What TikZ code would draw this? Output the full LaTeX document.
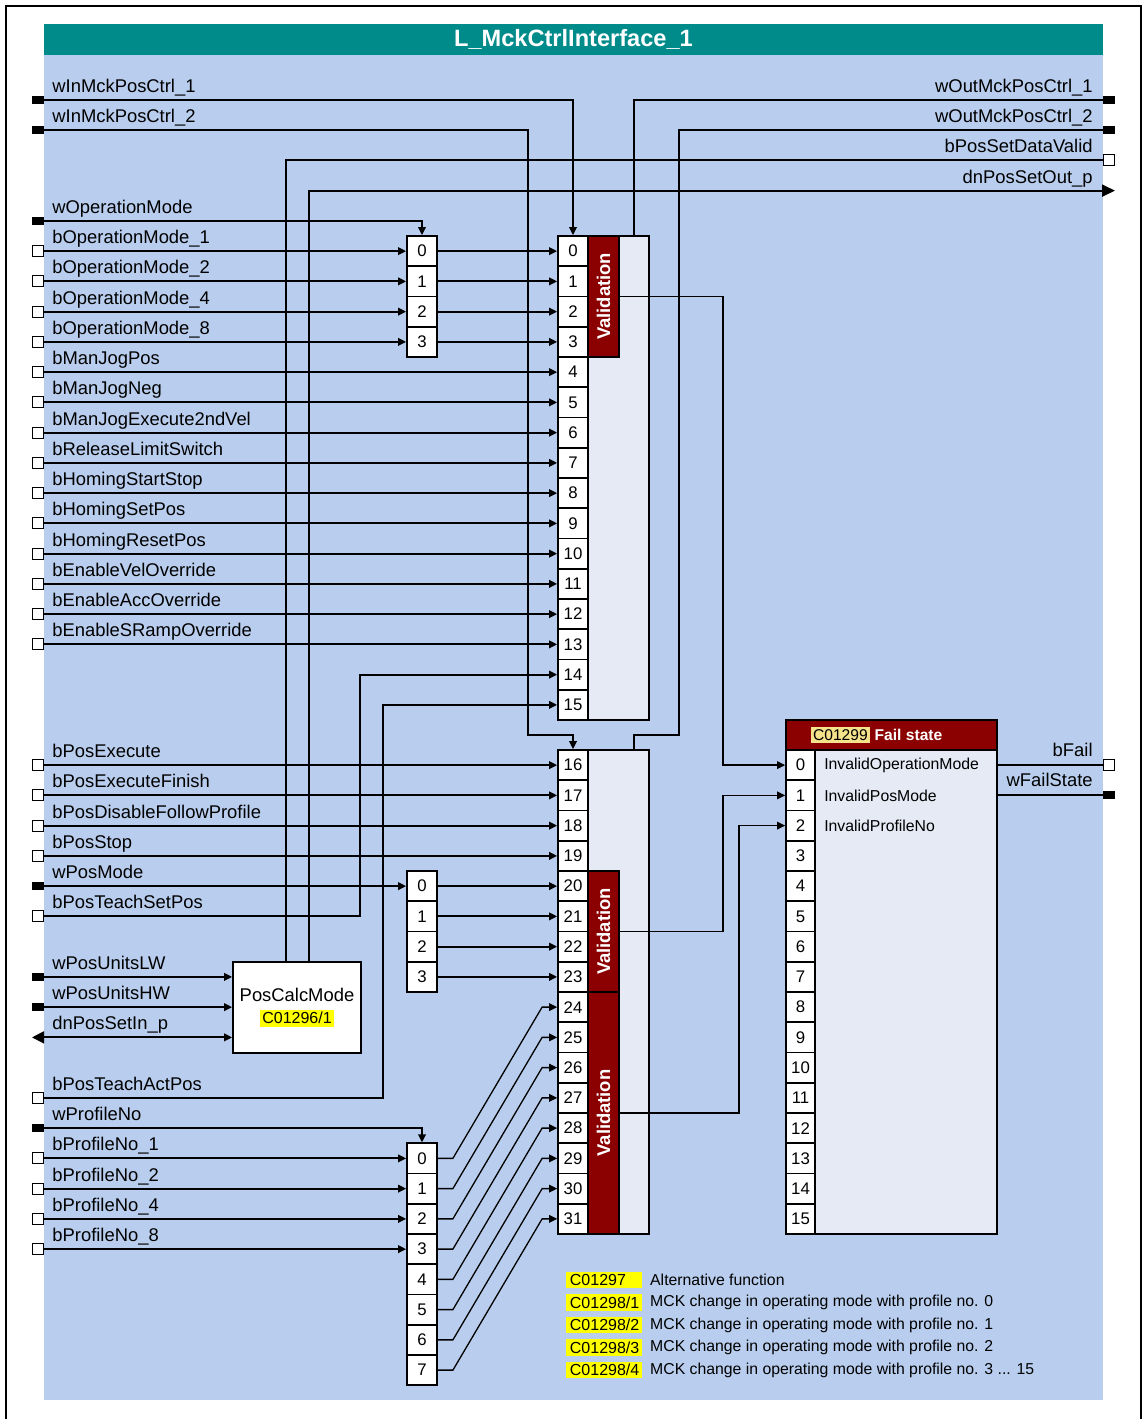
\documentclass[tikz,border=0pt]{standalone}
\usepackage{fontspec}
\setmainfont{Liberation Sans}
\usetikzlibrary{arrows.meta,positioning}
\usepackage{xcolor}
\definecolor{frameteal}{HTML}{008B8B}
\definecolor{paneblue}{HTML}{B9CEEE}
\definecolor{boxgrey}{HTML}{E6EAF5}
\definecolor{validred}{HTML}{8B0000}
\definecolor{codeyellow}{HTML}{FFFF00}
\definecolor{codepale}{HTML}{F4E38A}
\setlength{\fboxsep}{1.3pt}

\tikzset{
  wire/.style={line width=0.9pt},
  arr/.style={wire,-{Triangle[length=4pt,width=3.8pt]}},
  slim/.style={line width=0.65pt,-{Triangle[length=4pt,width=3.8pt]}},
  cell/.style={draw,line width=0.9pt,fill=white,minimum width=15pt,minimum height=15.125pt,inner sep=0pt,font=\fontsize{8.4}{10}\selectfont},
  pinw/.style={fill=black,minimum width=6pt,minimum height=4pt,inner sep=0pt},
  pinb/.style={draw,line width=0.6pt,fill=white,minimum size=5.5pt,inner sep=0pt},
  sig/.style={anchor=base west,inner sep=0pt,font=\fontsize{9.2}{11}\selectfont},
  sigr/.style={anchor=base east,inner sep=0pt,font=\fontsize{9.2}{11}\selectfont},
  blockbox/.style={draw,line width=0.9pt,fill=boxgrey,inner sep=0pt},
  valid/.style={draw,line width=0.9pt,fill=validred,text=white,rotate=90,minimum height=15.5pt,inner sep=0pt,font=\bfseries\fontsize{9.2}{11}\selectfont},
  codebox/.style={fill=codeyellow,anchor=west,text width=34.5pt,inner xsep=1.75pt,inner ysep=0pt,minimum height=8.3pt,font=\fontsize{8}{10}\selectfont},
  note/.style={anchor=west,inner sep=0pt,font=\fontsize{7.9}{10}\selectfont}
}

\begin{document}
\begin{tikzpicture}[x=0.5pt,y=-0.5pt]
\useasboundingbox (0,0) rectangle (1143,1419);
% frame, panel and title
\draw[line width=1pt] (5.5,1430) -- (5.5,5.5) -- (1141,5.5) -- (1141,1430);
\fill[paneblue] (44,55) rectangle (1103,1400);
\node[fill=frameteal,minimum width=529.5pt,minimum height=15.5pt,inner sep=0pt,text=white,font=\bfseries\fontsize{11.8}{14}\selectfont] (title) at (573.5,39.5) {L\_MckCtrlInterface\_1};

% input blocks 0..15 and 16..31
\node[blockbox,minimum width=45.5pt,minimum height=242pt] (blk1) at (603.5,478) {};
\node[blockbox,minimum width=45.5pt,minimum height=242pt] (blk2) at (603.5,992) {};
\foreach \i in {0,...,15}
  \node[cell] (a\i) at (573,{251.125+30.25*\i}) {\i};
\foreach \i in {16,...,31}
  \node[cell] (a\i) at (573,{765.125+30.25*(\i-16)}) {\i};
\node[valid,minimum width=60.5pt] (v1) at (603.5,296.5) {Validation};
\node[valid,minimum width=60.5pt] (v2) at (603.5,931.5) {Validation};
\node[valid,minimum width=121pt] (v3) at (603.5,1113) {Validation};

% selector columns
\foreach \i in {0,...,3}{
  \node[cell] (m\i) at (422,{251.125+30.25*\i}) {\i};
  \node[cell] (n\i) at (422,{886.125+30.25*\i}) {\i};
}
\foreach \i in {0,...,7}
  \node[cell] (p\i) at (422,{1158.375+30.25*\i}) {\i};

% fail state block
\node[blockbox,minimum width=105.5pt,minimum height=242pt] (fail) at (891.5,992) {};
\node[draw,line width=0.9pt,fill=validred,minimum width=105.5pt,minimum height=15pt,inner sep=0pt] (failhd) at (891.5,735) {};
\node[anchor=west,inner sep=0pt,text=white,font=\bfseries\fontsize{7.8}{10}\selectfont,right=12.5pt of failhd.west] (failtxt) {\colorbox{codepale}{\color{black}\mdseries C01299}\ Fail state};
\foreach \i in {0,...,15}
  \node[cell,minimum width=14.5pt] (f\i) at (800.5,{765.125+30.25*\i}) {\i};
\node[note,right=4pt of f0] {InvalidOperationMode};
\node[note,right=4pt of f1] {InvalidPosMode};
\node[note,right=4pt of f2] {InvalidProfileNo};

% position calculation
\node[draw,line width=0.9pt,fill=white,minimum width=64pt,minimum height=45.5pt,inner sep=0pt,align=center,font=\fontsize{9.2}{11}\selectfont] (pcm) at (297,1007.5) {PosCalcMode\\\colorbox{codeyellow}{\fontsize{8}{9}\selectfont C01296/1}};

% control words in and out
\node[pinw] (inA) at (38,99.875) {};
\node[sig] at (52,92.4) {wInMckPosCtrl\_1};
\draw[arr] (inA.east) -| (a0.north);
\node[pinw] (inB) at (38,130.125) {};
\node[sig] at (52,122.6) {wInMckPosCtrl\_2};
\coordinate (bendB) at (528,735);
\draw[arr] (inB.east) -| (bendB) -| (a16.north);

\node[pinw] (outA) at (1109,99.875) {};
\node[sigr] at (1093,92.4) {wOutMckPosCtrl\_1};
\coordinate (tapA) at (634,236);
\draw[wire] (tapA) |- (outA.west);
\node[pinw] (outB) at (1109,130.125) {};
\node[sigr] at (1093,122.6) {wOutMckPosCtrl\_2};
\coordinate (tapB) at (634,750);
\coordinate (bendO) at (679,735);
\draw[wire] (tapB) |- (bendO) |- (outB.west);

\node[pinb] (outV) at (1109,160.375) {};
\node[sigr] at (1093,152.9) {bPosSetDataValid};
\draw[wire] ([xshift=-5.5pt]pcm.north) |- (outV.west);
\coordinate (outP) at (1115,190.625);
\node[sigr] at (1093,183.1) {dnPosSetOut\_p};
\draw[wire,-{Triangle[length=6.5pt,width=6pt]}] ([xshift=6pt]pcm.north) |- (outP);

% operation mode
\node[pinw] (inOM) at (38,220.875) {};
\node[sig] at (52,213.4) {wOperationMode};
\draw[arr] (inOM.east) -| (m0.north);
\foreach \i/\t in {0/1,1/2,2/4,3/8}{
  \node[pinb] (in\i) at (38,{251.125+30.25*\i}) {};
  \node[sig] at (52,{243.625+30.25*\i}) {bOperationMode\_\t};
  \draw[arr] (in\i.east) -- (m\i.west);
  \draw[arr] (m\i.east) -- (a\i.west);
}
\foreach \i/\t in {4/bManJogPos,5/bManJogNeg,6/bManJogExecute2ndVel,7/bReleaseLimitSwitch,8/bHomingStartStop,9/bHomingSetPos,10/bHomingResetPos,11/bEnableVelOverride,12/bEnableAccOverride,13/bEnableSRampOverride}{
  \node[pinb] (in\i) at (38,{251.125+30.25*\i}) {};
  \node[sig] at (52,{243.625+30.25*\i}) {\t};
  \draw[arr] (in\i.east) -- (a\i.west);
}

% positioning inputs
\foreach \i/\t in {16/bPosExecute,17/bPosExecuteFinish,18/bPosDisableFollowProfile,19/bPosStop}{
  \node[pinb] (in\i) at (38,{765.125+30.25*(\i-16)}) {};
  \node[sig] at (52,{757.625+30.25*(\i-16)}) {\t};
  \draw[arr] (in\i.east) -- (a\i.west);
}
\node[pinw] (in20) at (38,886.125) {};
\node[sig] at (52,878.6) {wPosMode};
\draw[arr] (in20.east) -- (n0.west);
\foreach \i in {0,...,3}{
  \pgfmathtruncatemacro{\k}{20+\i}
  \draw[arr] (n\i.east) -- (a\k.west);
}
\node[pinb] (in21) at (38,916.375) {};
\node[sig] at (52,908.9) {bPosTeachSetPos};
\draw[arr] (in21.east) -| ([xshift=-98.5pt]a14.west) -- (a14.west);

\node[pinw] (in23) at (38,976.875) {};
\node[sig] at (52,969.4) {wPosUnitsLW};
\draw[arr] (in23.east) -- (in23.east -| pcm.west);
\node[pinw] (in24) at (38,1007.125) {};
\node[sig] at (52,999.6) {wPosUnitsHW};
\draw[arr] (in24.east) -- (in24.east -| pcm.west);
\coordinate (in25) at (32,1037.375);
\node[sig] at (52,1029.9) {dnPosSetIn\_p};
\draw[wire,{Triangle[length=6pt,width=6pt]}-{Triangle[length=4pt,width=3.8pt]}] (in25) -- (in25 -| pcm.west);

\node[pinb] (in27) at (38,1097.875) {};
\node[sig] at (52,1090.4) {bPosTeachActPos};
\draw[arr] (in27.east) -| ([xshift=-87pt]a15.west) -- (a15.west);

% profile number
\node[pinw] (in28) at (38,1128.125) {};
\node[sig] at (52,1120.6) {wProfileNo};
\draw[arr] (in28.east) -| (p0.north);
\foreach \i/\t in {0/1,1/2,2/4,3/8}{
  \pgfmathtruncatemacro{\k}{29+\i}
  \node[pinb] (in\k) at (38,{1158.375+30.25*\i}) {};
  \node[sig] at (52,{1150.875+30.25*\i}) {bProfileNo\_\t};
  \draw[arr] (in\k.east) -- (p\i.west);
}
\foreach \i in {0,...,7}{
  \pgfmathtruncatemacro{\k}{24+\i}
  \draw[slim] (p\i.east) -- ++(15,0) -- ([xshift=-7.5pt]a\k.west) -- (a\k.west);
}

% validation results
\draw[slim] (v1.south) -| ([xshift=-31pt]f0.west) -- (f0.west);
\draw[slim] (v2.south) -| ([xshift=-31pt]f1.west) -- (f1.west);
\draw[slim] (v3.south) -| ([xshift=-23pt]f2.west) -- (f2.west);

\node[pinb] (outF) at (1109,765.125) {};
\node[sigr] at (1093,756.6) {bFail};
\draw[wire] (fail.east |- f0) -- (outF.west);
\node[pinw] (outS) at (1109,795.375) {};
\node[sigr] at (1093,786.9) {wFailState};
\draw[wire] (fail.east |- f1) -- (outS.west);

% codes
\foreach \i/\c/\t in {0/C01297/Alternative function,1/{C01298/1}/MCK change in operating mode with profile no. 0,2/{C01298/2}/MCK change in operating mode with profile no. 1,3/{C01298/3}/MCK change in operating mode with profile no. 2}{
  \node[codebox] (k\i) at (566,{1280+22.5*\i}) {\c};
  \node[note,right=3.5pt of k\i] {\t};
}
\node[codebox] (k4) at (566,1370) {C01298/4};
\node[note,right=3.5pt of k4] {MCK change in operating mode with profile no. 3 ... 15};
\end{tikzpicture}
\end{document}
